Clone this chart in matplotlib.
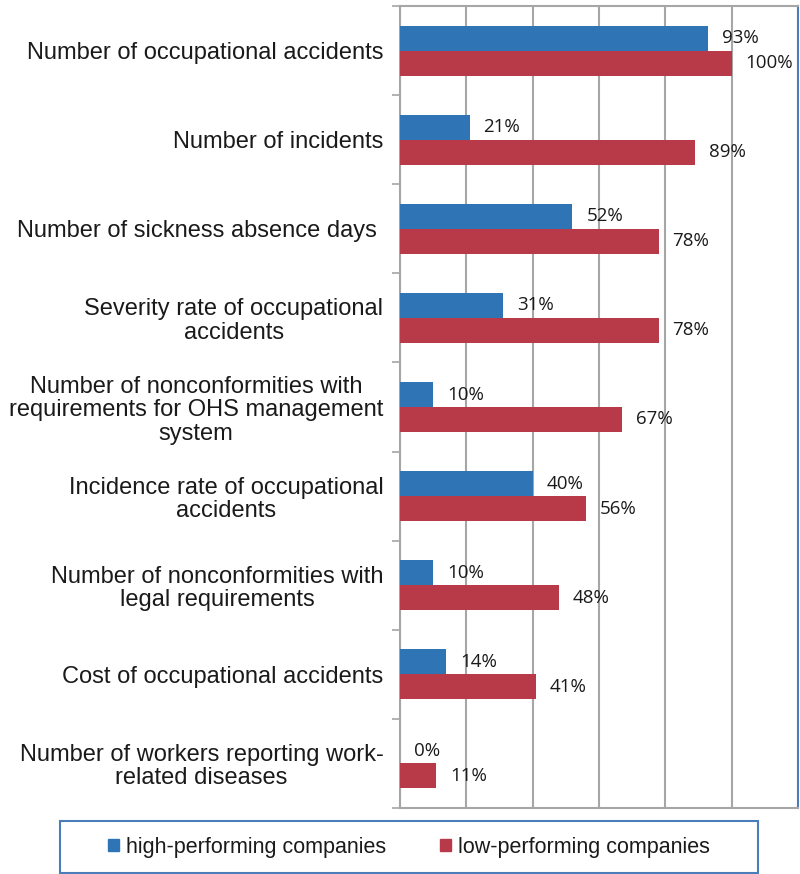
import numpy as np
import matplotlib.pyplot as plt
from matplotlib.patches import Rectangle
from matplotlib.ticker import FixedLocator

categories = [
    "Number of occupational accidents",
    "Number of incidents",
    "Number of sickness absence days ",
    "Severity rate of occupational\naccidents",
    "Number of nonconformities with\nrequirements for OHS management\nsystem",
    "Incidence rate of occupational\naccidents",
    "Number of nonconformities with\nlegal requirements",
    "Cost of occupational accidents",
    "Number of workers reporting work-\nrelated diseases",
]
high_perf = [93, 21, 52, 31, 10, 40, 10, 14, 0]
low_perf = [100, 89, 78, 78, 67, 56, 48, 41, 11]
series_names = ["high-performing companies", "low-performing companies"]

BLUE = "#2f75b6"
RED = "#b83a48"
GRID = "#a6a6a6"

fig = plt.figure(figsize=(8, 8.74), dpi=100)
ax = fig.add_axes([0.5, 0.0755, 0.4975, 0.9176])

y = np.arange(len(categories))
h = 0.28
bars_hi = ax.barh(y - h / 2, high_perf, height=h, color=BLUE, zorder=3)
bars_lo = ax.barh(y + h / 2, low_perf, height=h, color=RED, zorder=3)

# value labels
for bars, vals in [(bars_hi, high_perf), (bars_lo, low_perf)]:
    for b, v in zip(bars, vals):
        ax.annotate(f"{v}%", (v, b.get_y() + b.get_height() / 2),
                    xytext=(10, 0), textcoords="offset points",
                    ha="left", va="center", fontsize=13.5,
                    family="Open Sans", color="#1a1a1a", zorder=4)

ax.set_xlim(0, 120)
ax.set_ylim(len(categories) - 0.5, -0.5)
ax.set_xticks(np.arange(0, 121, 20))
ax.tick_params(axis="x", length=0, labelbottom=False)
ax.grid(axis="x", color=GRID, linewidth=1.5, zorder=0)

ax.set_yticks(y)
ax.set_yticklabels(categories, fontsize=17, family="Liberation Sans",
                   color="#1a1a1a", multialignment="center", linespacing=1.08)
ax.tick_params(axis="y", which="major", length=0, pad=12)
ax.yaxis.set_minor_locator(FixedLocator(np.arange(-0.5, len(categories), 1)))
ax.tick_params(axis="y", which="minor", length=6, width=1.2, color=GRID)

for s in ["left", "top", "bottom"]:
    ax.spines[s].set_color(GRID)
    ax.spines[s].set_linewidth(1.5)
ax.spines["right"].set_color("#4a7ebb")
ax.spines["right"].set_linewidth(1.5)

# legend box
fig.patches.append(Rectangle((60 / 800, 1 - 873 / 874), 698 / 800, 52 / 874,
                             transform=fig.transFigure, fill=False,
                             edgecolor="#4a7ebb", linewidth=1.5))
handles = [Rectangle((0, 0), 1, 1, color=BLUE), Rectangle((0, 0), 1, 1, color=RED)]
fig.legend(handles, series_names, loc="center", ncol=2,
           bbox_to_anchor=(409 / 800, 1 - 847 / 874), frameon=False,
           prop={"family": "Liberation Sans", "size": 15.5},
           labelcolor="#1a1a1a",
           handlelength=0.5, handleheight=0.5, handletextpad=0.35,
           columnspacing=2.5)

fig.savefig("out.png", dpi=100)
